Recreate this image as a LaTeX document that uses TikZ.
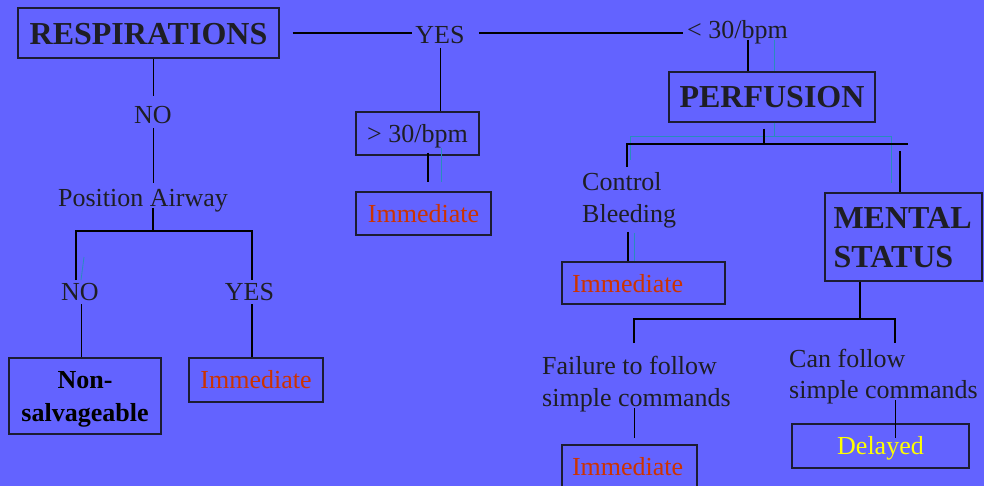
\documentclass[tikz,border=0pt]{standalone}
\usepackage{fontspec}
\setmainfont{Liberation Serif}
\usetikzlibrary{calc}
\definecolor{bg}{RGB}{99,99,255}
\definecolor{ink}{RGB}{30,30,36}
\definecolor{edge}{RGB}{28,28,50}
\definecolor{imm}{RGB}{204,51,0}
\definecolor{dly}{RGB}{255,255,0}
\definecolor{tl}{RGB}{40,140,190}
\begin{document}
\begin{tikzpicture}[x=1pt,y=-1pt,
  lbl/.style={inner sep=0pt,text=ink,font=\fontsize{26}{32}\selectfont},
  box/.style={draw=edge,line width=1.4pt,inner sep=0pt,text=ink},
  big/.style={font=\bfseries\fontsize{32}{39}\selectfont},
  reg/.style={font=\fontsize{26}{32}\selectfont},
  thinln/.style={draw=black,line width=1pt},
  medln/.style={draw=black,line width=1.3pt},
  thkln/.style={draw=black,line width=1.7pt},
  tealln/.style={draw=tl,line width=0.8pt}]
\fill[bg] (0,0) rectangle (984,486);
\useasboundingbox (0,0) rectangle (984,486);

% nodes
\node[box,big,minimum width=261pt,minimum height=50pt,text height=24pt,text depth=0pt] (resp) at (148.5,33) {RESPIRATIONS};
\node[lbl,anchor=base] (yes1) at (440,44) {YES};
\node[lbl,anchor=base west] (lt30) at (687,39) {< 30/bpm};
\node[box,reg,minimum width=123pt,minimum height=43pt,text height=18pt,text depth=0pt] (gt30) at (417.5,133.5) {> 30/bpm};
\node[box,reg,text=imm,minimum width=135pt,minimum height=43pt,text height=18pt,text depth=0pt] (imm1) at (423.5,213.5) {Immediate};
\node[lbl,anchor=base] (no1) at (153,124) {NO};
\node[lbl,anchor=base] (posair) at (143,207) {Position Airway};
\node[lbl,anchor=base] (no2) at (80,300) {NO};
\node[lbl,anchor=base] (yes2) at (249.5,300) {YES};
\node[box,text=black,font=\bfseries\fontsize{26}{33}\selectfont,minimum width=152pt,minimum height=76pt,text height=19pt,text depth=35pt] (nonsalv) at (85,396) {\begin{tabular}[t]{@{}c@{}}Non-\\salvageable\end{tabular}};
\node[box,reg,text=imm,minimum width=134pt,minimum height=44pt,text height=17pt,text depth=0pt] (imm2) at (256,380) {Immediate};
\node[box,big,minimum width=206pt,minimum height=50pt,text height=22pt,text depth=0pt] (perf) at (772,97) {PERFUSION};
\node[lbl,anchor=base west] (ctrl) at (582,191) {\begin{tabular}[t]{@{}l@{}}Control\\Bleeding\end{tabular}};
\node[box,big,minimum width=157pt,minimum height=88pt,text height=24pt,text depth=40pt] (mental) at (903.5,237) {\makebox[140pt][l]{\begin{tabular}[t]{@{}l@{}}MENTAL\\STATUS\end{tabular}}};
\node[box,reg,text=imm,minimum width=163pt,minimum height=42pt,text height=18pt,text depth=0pt] (imm3) at (643.5,283) {\makebox[143pt][l]{Immediate}};
\node[lbl,anchor=base west] (fail) at (542,374) {\begin{tabular}[t]{@{}l@{}}Failure to follow\\simple commands\end{tabular}};
\node[lbl,anchor=base west,font=\fontsize{26}{31}\selectfont] (canf) at (789,367) {\begin{tabular}[t]{@{}l@{}}Can follow\\simple commands\end{tabular}};
\node[box,reg,text=imm,minimum width=135pt,minimum height=43pt,text height=18pt,text depth=0pt] (imm4) at (629.5,466.5) {\makebox[115pt][l]{Immediate}};
\node[box,reg,text=dly,minimum width=177pt,minimum height=44pt,text height=17pt,text depth=0pt] (delayed) at (880.5,446) {Delayed};

% junction coordinates
\coordinate (jA) at (76,231);
\coordinate (jB) at (252,231);
\coordinate (jC) at (627,144);
\coordinate (jD) at (908,144);
\coordinate (jE) at (634,319);
\coordinate (jF) at (895,319);

% connectors, left part
\draw[medln] ($(resp.east)+(13,0)$) -- ($(yes1.west |- resp.east)+(-3,0)$);
\draw[medln] ($(yes1.east |- resp.east)+(14,0)$) -- ($(lt30.west |- resp.east)+(-4,0)$);
\draw[thinln] ($(yes1.base)+(0,4)$) -- (yes1.base |- gt30.north);
\draw[thkln] ($(gt30.south)+(10.5,-3)$) -- ($(imm1.north)+(4.5,-9)$);
\draw[tealln] ($(gt30.south)+(24,-8)$) -- ($(imm1.north)+(18,-9)$);
\draw[thinln] (no1.base |- resp.south) -- ($(no1.base)+(0,-28)$);
\draw[thinln] ($(no1.base)+(0,4)$) -- ($(no1.base |- posair.base)+(0,-24)$);
\draw[medln] ($(no1.base |- posair.base)+(0,1)$) -- (no1.base |- jA);
\draw[thkln] ($(jA)+(0,49)$) -- (jA) -- (jB) -- ($(jB)+(0,49)$);
\draw[tealln] ($(no2.base)+(4,-43)$) -- ($(no2.base)+(1,-20)$);
\draw[thinln] ($(no2.base)+(1,4)$) -- ($(no2.base |- nonsalv.north)+(1,0)$);
\draw[thkln] ($(yes2.base)+(2.5,4)$) -- ($(yes2.base |- imm2.north)+(2.5,0)$);

% connectors, right part
\draw[thkln] ($(lt30.base west)+(61,1)$) -- ($(lt30.base west |- perf.north)+(61,0)$);
\draw[tealln] ($(lt30.base west)+(87,1)$) -- ($(lt30.base west |- perf.north)+(87,0)$);
\draw[tealln] ($(perf.south)+(2,0)$) -- ($(perf.south)+(2,14)$);
\draw[tealln] ($(jC)+(3,16)$) -- ($(jC)+(3,-8)$) -- ($(jD)+(-17,-8)$) -- ($(jD)+(-17,39)$);
\draw[thkln] ($(perf.south)+(-8,6)$) -- ($(perf.south)+(-8,22)$);
\draw[thkln] ($(jC)+(0,23)$) -- (jC) -- (jD);
\draw[thkln] ($(mental.north)+(-3.5,-41)$) -- ($(mental.north)+(-3.5,0)$);
\draw[thkln] ($(ctrl.base west)+(46,41)$) -- ($(imm3.north -| ctrl.base west)+(46,0)$);
\draw[tealln] ($(ctrl.base west)+(52,42)$) -- ($(imm3.north -| ctrl.base west)+(52,0)$);
\draw[thkln] ($(mental.south)+(-43.5,0)$) -- ($(jE -| mental.south)+(-43.5,0)$);
\draw[medln] ($(jE)+(0,24)$) -- (jE) -- (jF) -- ($(jF)+(0,24)$);
\draw[thinln] ($(jE |- fail.base)+(0,34)$) -- ($(jE |- imm4.north)+(0,-6)$);
\draw[thinln] ($(jF |- canf.base)+(0,33)$) -- ($(jF |- delayed.north)+(0,15)$);
\end{tikzpicture}
\end{document}
